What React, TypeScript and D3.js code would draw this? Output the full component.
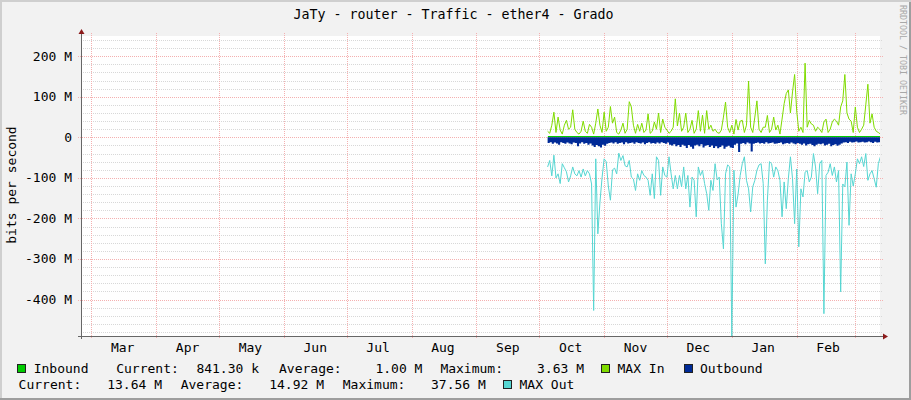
import { useEffect, useRef } from "react";
import * as d3 from "d3";

const width = 911;
const height = 400;

// time window of the graph and first day that has samples
const rangeStart = new Date(Date.UTC(2014, 1, 24, 2));
const rangeEnd = new Date(Date.UTC(2015, 2, 12, 19));
const dataStart = new Date(Date.UTC(2014, 9, 5));

const title = "JaTy - router - Traffic - ether4 - Grado";
const yAxisTitle = "bits per second";
const watermark = "RRDTOOL / TOBI OETIKER";

const monthLabels = ["Mar", "Apr", "May", "Jun", "Jul", "Aug", "Sep", "Oct", "Nov", "Dec", "Jan", "Feb"];
const yTicks = [200, 100, 0, -100, -200, -300, -400];
const yTickLabels = ["200 M", "100 M", "0", "-100 M", "-200 M", "-300 M", "-400 M"];

const seriesNames = ["Inbound", "MAX In", "Outbound", "MAX Out"];
const statLabels = ["Current:", "Average:", "Maximum:"];
const inboundStats = ["841.30 k", "1.00 M", "3.63 M"];
const outboundStats = ["13.64 M", "14.92 M", "37.56 M"];

// one value per day, Mbit/s (outbound drawn below zero)
const inbound = [
  1.2, 0.9, 1.4, 2.1, 0.8, 1.6, 1.1, 0.7, 1.3, 1.8, 1.0, 1.2, 2.4, 1.1, 0.8, 0.6, 0.9, 1.5, 1.0, 0.7,
  1.3, 1.1, 0.6, 1.2, 2.6, 1.4, 0.8, 2.0, 0.9, 1.1, 2.8, 1.3, 1.7, 0.8, 0.6, 0.9, 1.4, 0.7, 1.0, 3.1,
  2.5, 1.2, 0.7, 1.3, 0.9, 1.4, 0.8, 0.9, 2.0, 0.7, 0.9, 1.5, 1.0, 2.1, 0.8, 1.6, 1.1, 0.9, 0.7, 0.8,
  1.1, 3.6, 1.2, 2.2, 0.8, 1.0, 2.0, 0.7, 1.0, 1.6, 0.7, 1.0, 2.3, 0.8, 1.9, 0.6, 2.2, 1.0, 1.3, 0.8,
  1.0, 0.7, 0.6, 0.9, 1.8, 2.9, 1.1, 0.7, 1.2, 0.6, 1.6, 0.9, 1.5, 1.6, 0.7, 1.2, 3.4, 1.1, 0.7, 1.8,
  3.0, 1.0, 0.7, 1.1, 1.0, 1.9, 0.7, 1.0, 1.8, 0.9, 1.2, 0.6, 1.6, 2.7, 3.2, 3.3, 2.0, 3.1, 3.5, 2.2,
  0.8, 1.1, 0.7, 3.6, 1.1, 1.5, 1.3, 1.2, 0.8, 1.0, 0.9, 0.7, 1.4, 1.6, 0.7, 0.9, 1.4, 1.6, 1.5, 1.2,
  2.4, 2.8, 3.5, 2.0, 1.6, 1.5, 0.7, 2.4, 1.0, 0.7, 0.9, 1.2, 2.6, 3.3, 1.3, 1.9, 1.0, 0.8, 0.7, 0.84,
];

const maxIn = [
  15, 10, 30, 62, 12, 50, 18, 8, 30, 42, 20, 25, 68, 20, 12, 8, 15, 40, 15, 10,
  32, 25, 8, 35, 70, 30, 12, 62, 15, 25, 76, 35, 50, 12, 8, 18, 35, 10, 20, 88,
  75, 30, 10, 32, 15, 35, 12, 18, 58, 10, 15, 38, 20, 60, 12, 45, 25, 18, 10, 15,
  25, 95, 28, 60, 15, 25, 60, 12, 20, 42, 10, 20, 66, 15, 55, 10, 66, 20, 30, 15,
  20, 12, 10, 18, 50, 87, 25, 12, 30, 8, 44, 18, 40, 42, 12, 30, 139, 25, 12, 50,
  90, 20, 12, 25, 25, 54, 12, 20, 50, 18, 30, 8, 45, 83, 108, 117, 60, 112, 155, 65,
  15, 25, 12, 183, 25, 42, 33, 30, 15, 25, 20, 12, 38, 45, 12, 20, 38, 45, 40, 30,
  75, 90, 155, 60, 45, 40, 12, 75, 25, 12, 20, 30, 80, 131, 35, 58, 25, 15, 12, 8,
];

const outbound = [
  -14, -12, -16, -13, -15, -18, -12, -14, -16, -13, -15, -17, -13, -14, -22, -15, -12, -16, -14, -18,
  -15, -20, -24, -19, -22, -25, -18, -21, -16, -14, -13, -15, -12, -16, -14, -13, -17, -12, -15, -14,
  -13, -16, -12, -14, -15, -13, -17, -14, -12, -15, -14, -16, -13, -15, -12, -14, -16, -13, -18, -20,
  -17, -22, -19, -24, -18, -21, -26, -19, -23, -28, -20, -18, -22, -17, -25, -21, -19, -24, -20, -26,
  -22, -27, -24, -20, -28, -23, -21, -25, -26, -18, -15, -36, -16, -14, -17, -13, -15, -35, -16, -14,
  -13, -15, -14, -16, -12, -15, -14, -13, -16, -15, -14, -13, -17, -15, -14, -16, -13, -15, -17, -14,
  -16, -18, -15, -20, -17, -16, -19, -22, -18, -16, -17, -15, -20, -18, -16, -22, -19, -17, -21, -18,
  -15, -13, -12, -14, -11, -13, -12, -10, -13, -12, -11, -13, -12, -10, -12, -14, -11, -13, -12, -14,
];

const maxOut = [
  -73, -57, -95, -44, -100, -90, -114, -65, -75, -85, -110, -95, -73, -90, -95, -82, -98, -78, -95, -82,
  -90, -115, -427, -53, -238, -160, -100, -53, -60, -120, -155, -80, -76, -90, -39, -57, -45, -70, -73, -57,
  -98, -103, -131, -90, -106, -82, -94, -98, -106, -143, -90, -151, -48, -57, -143, -73, -94, -98, -48, -90,
  -127, -94, -127, -94, -122, -73, -127, -94, -172, -98, -106, -196, -73, -94, -82, -114, -139, -180, -106, -131,
  -65, -105, -98, -213, -275, -90, -68, -73, -490, -81, -172, -140, -94, -65, -48, -106, -127, -184, -122, -106,
  -81, -68, -65, -114, -312, -155, -60, -65, -98, -73, -82, -106, -196, -110, -176, -102, -48, -102, -213, -78,
  -270, -127, -147, -86, -82, -110, -98, -40, -73, -139, -65, -57, -435, -94, -86, -65, -94, -73, -110, -82,
  -381, -115, -122, -61, -217, -90, -120, -90, -53, -65, -48, -72, -40, -106, -90, -82, -102, -123, -65, -48,
];

const colors = {
  inbound: "#00cc00",
  maxIn: "#80dc00",
  outbound: "#002a97",
  maxOut: "#56d6d2",
};

const font = "'DejaVu Sans Mono', monospace";

export default function App() {
  const svgRef = useRef<SVGSVGElement>(null);

  useEffect(() => {
    if (!svgRef.current) return;
    const svg = d3.select(svgRef.current);
    svg.selectAll("*").remove();

    const plot = { left: 81, right: 880, top: 36, bottom: 336 };

    const x = d3.scaleUtc().domain([rangeStart, rangeEnd]).range([plot.left, plot.right]);
    const y = d3.scaleLinear().domain([-490, 250]).range([plot.bottom, plot.top]);

    // background with rrdtool-ish 3d frame
    svg.append("rect").attr("width", width).attr("height", height).attr("fill", "#f2f2f2");
    svg.append("path").attr("d", `M0,0H${width}V2H2V${height}H0Z`).attr("fill", "#cfcfcf");
    svg
      .append("path")
      .attr("d", `M${width - 2},2H${width}V${height}H0V${height - 2}H${width - 2}Z`)
      .attr("fill", "#9e9e9e");

    svg
      .append("rect")
      .attr("x", plot.left)
      .attr("y", plot.top)
      .attr("width", plot.right - plot.left)
      .attr("height", plot.bottom - plot.top)
      .attr("fill", "#ffffff");

    const grid = svg.append("g").attr("shape-rendering", "crispEdges");

    // minor horizontal grid
    grid
      .selectAll("line.minor")
      .data(d3.range(-480, 241, 20).filter((v) => v % 100 !== 0))
      .join("line")
      .attr("x1", plot.left)
      .attr("x2", plot.right + 3)
      .attr("y1", (d) => Math.round(y(d)) + 0.5)
      .attr("y2", (d) => Math.round(y(d)) + 0.5)
      .attr("stroke", "#d8d8d8")
      .attr("stroke-dasharray", "1,1");

    // major horizontal grid
    grid
      .selectAll("line.major")
      .data(yTicks)
      .join("line")
      .attr("x1", plot.left - 3)
      .attr("x2", plot.right + 3)
      .attr("y1", (d) => Math.round(y(d)) + 0.5)
      .attr("y2", (d) => Math.round(y(d)) + 0.5)
      .attr("stroke", "#f4b0b0")
      .attr("stroke-dasharray", "1,1");

    // month grid
    const months = d3.utcMonth.range(rangeStart, rangeEnd);
    grid
      .selectAll("line.month")
      .data(months)
      .join("line")
      .attr("x1", (d) => Math.round(x(d)) + 0.5)
      .attr("x2", (d) => Math.round(x(d)) + 0.5)
      .attr("y1", plot.top - 3)
      .attr("y2", plot.bottom + 3)
      .attr("stroke", "#f4b0b0")
      .attr("stroke-dasharray", "1,1");

    // data
    const dates = maxIn.map((_, i) => d3.utcDay.offset(dataStart, i));

    svg
      .append("clipPath")
      .attr("id", "plot-clip")
      .append("rect")
      .attr("x", plot.left)
      .attr("y", plot.top)
      .attr("width", plot.right - plot.left)
      .attr("height", plot.bottom - plot.top);

    const data = svg.append("g").attr("clip-path", "url(#plot-clip)");

    const area = d3
      .area<number>()
      .x((d, i) => x(dates[i]))
      .y0(y(0))
      .y1((d) => y(d))
      .curve(d3.curveStepAfter);

    const line = d3
      .line<number>()
      .x((d, i) => x(dates[i]))
      .y((d) => y(d));

    // inbound is tiny, so it shows only as a thin green edge on the zero line
    data
      .append("line")
      .attr("x1", x(dates[0]))
      .attr("x2", x(dates[dates.length - 1]))
      .attr("y1", Math.round(y(0)) - 0.5)
      .attr("y2", Math.round(y(0)) - 0.5)
      .attr("stroke", colors.inbound)
      .attr("stroke-width", 1)
      .attr("shape-rendering", "crispEdges");
    data.append("path").datum(inbound).attr("fill", colors.inbound).attr("d", area);
    data
      .append("path")
      .datum(maxIn)
      .attr("fill", "none")
      .attr("stroke", colors.maxIn)
      .attr("stroke-width", 1)
      .attr("d", line);
    data.append("path").datum(outbound).attr("fill", colors.outbound).attr("d", area);
    data
      .append("path")
      .datum(maxOut)
      .attr("fill", "none")
      .attr("stroke", colors.maxOut)
      .attr("stroke-width", 1)
      .attr("d", line);

    // axes
    const axis = svg.append("g").attr("shape-rendering", "crispEdges");
    axis
      .append("line")
      .attr("x1", plot.left + 0.5)
      .attr("x2", plot.left + 0.5)
      .attr("y1", plot.bottom + 3)
      .attr("y2", plot.top - 4)
      .attr("stroke", "#666666");
    axis
      .append("line")
      .attr("x1", plot.left - 3)
      .attr("x2", plot.right + 3)
      .attr("y1", plot.bottom + 0.5)
      .attr("y2", plot.bottom + 0.5)
      .attr("stroke", "#666666");

    svg
      .append("path")
      .attr("d", `M${plot.left - 2.5},${plot.top - 2}L${plot.left + 3.5},${plot.top - 2}L${plot.left + 0.5},${plot.top - 7}Z`)
      .attr("fill", "#8b1a1a");
    svg
      .append("path")
      .attr("d", `M${plot.right + 3},${plot.bottom - 2.5}L${plot.right + 3},${plot.bottom + 3.5}L${plot.right + 8},${plot.bottom + 0.5}Z`)
      .attr("fill", "#8b1a1a");

    // y labels
    svg
      .append("g")
      .selectAll("text")
      .data(yTicks)
      .join("text")
      .attr("x", 72)
      .attr("y", (d) => y(d) + 4.5)
      .attr("text-anchor", "end")
      .attr("font-family", font)
      .attr("font-size", 13)
      .attr("fill", "#000")
      .text((d, i) => yTickLabels[i]);

    // x labels, centred 15 days into each month
    svg
      .append("g")
      .selectAll("text")
      .data(months.slice(0, monthLabels.length))
      .join("text")
      .attr("x", (d) => x(d3.utcDay.offset(d, 15)))
      .attr("y", 352)
      .attr("text-anchor", "middle")
      .attr("font-family", font)
      .attr("font-size", 13)
      .attr("fill", "#000")
      .text((d, i) => monthLabels[i]);

    // titles
    svg
      .append("text")
      .attr("x", 453.5)
      .attr("y", 19)
      .attr("text-anchor", "middle")
      .attr("font-family", font)
      .attr("font-size", 13.3)
      .attr("fill", "#000")
      .text(title);

    svg
      .append("text")
      .attr("transform", "translate(15.5,185) rotate(-90)")
      .attr("text-anchor", "middle")
      .attr("font-family", font)
      .attr("font-size", 13)
      .attr("fill", "#000")
      .text(yAxisTitle);

    svg
      .append("text")
      .attr("transform", "translate(899.5,5) rotate(90)")
      .attr("font-family", font)
      .attr("font-size", 8.3)
      .attr("fill", "#a8a8a8")
      .text(watermark);

    // legend
    const legend = svg.append("g").attr("font-family", font).attr("font-size", 13).attr("fill", "#000");
    const swatch = (bx: number, by: number, color: string) =>
      legend
        .append("rect")
        .attr("x", bx + 0.5)
        .attr("y", by + 0.5)
        .attr("width", 8)
        .attr("height", 8)
        .attr("fill", color)
        .attr("stroke", "#222")
        .attr("shape-rendering", "crispEdges");
    const label = (tx: number, ty: number, s: string, anchor = "start") =>
      legend.append("text").attr("x", tx).attr("y", ty).attr("text-anchor", anchor).text(s);

    const row1 = 373;
    const row2 = 389;
    swatch(17, 364, colors.inbound);
    label(33.7, row1, seriesNames[0]);
    [116.2, 279, 440.4].forEach((lx, i) => label(lx, row1, statLabels[i]));
    [259, 422.4, 584].forEach((vx, i) => label(vx, row1, inboundStats[i], "end"));
    swatch(601, 364, colors.maxIn);
    label(617.5, row1, seriesNames[1]);
    swatch(684, 364, colors.outbound);
    label(700, row1, seriesNames[2]);

    [18.6, 180.7, 342.8].forEach((lx, i) => label(lx, row2, statLabels[i]));
    [162, 324, 485.8].forEach((vx, i) => label(vx, row2, outboundStats[i], "end"));
    swatch(503, 380, colors.maxOut);
    label(519.5, row2, seriesNames[3]);
  }, []);

  return (
    <svg
      ref={svgRef}
      width={width}
      height={height}
      style={{ position: "absolute", left: 0, top: 0, display: "block" }}
    />
  );
}
